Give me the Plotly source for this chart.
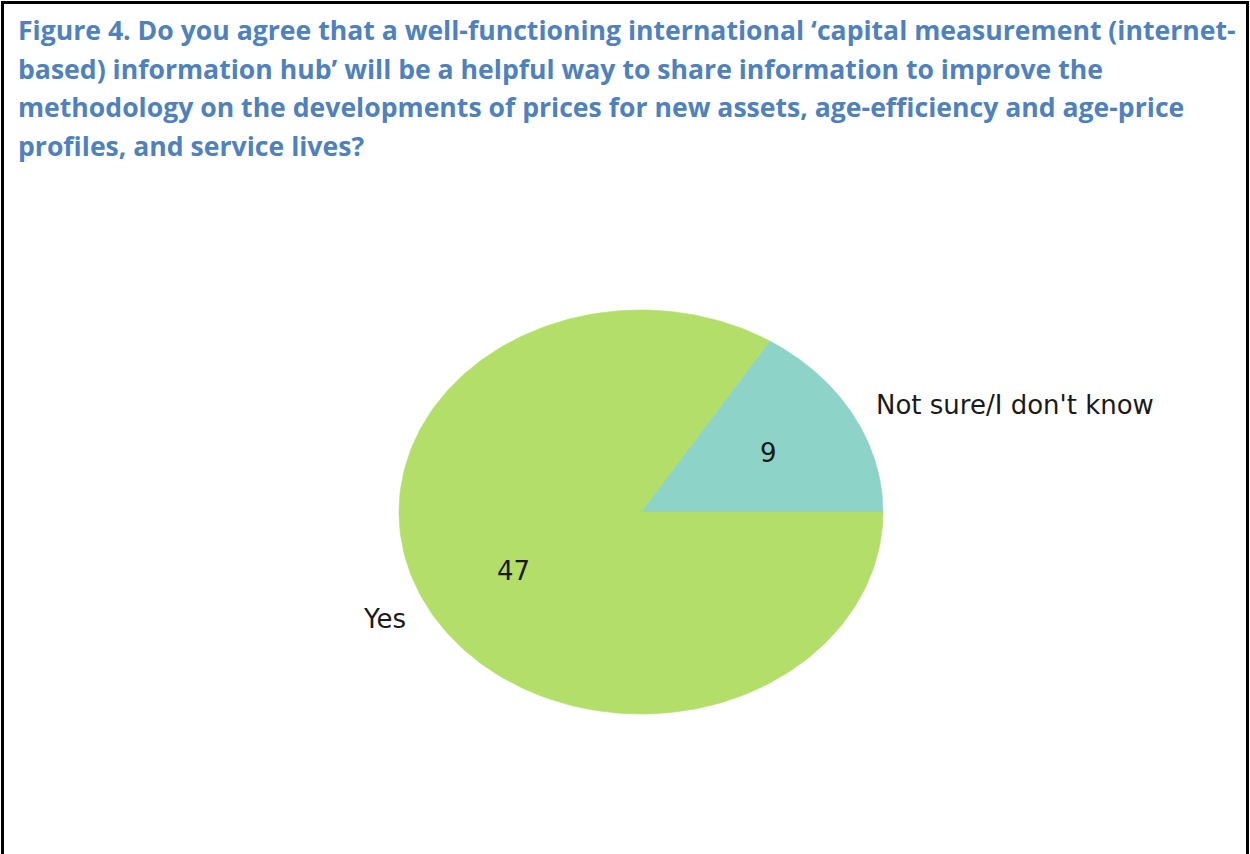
import numpy as np
import plotly.graph_objects as go

# Survey responses
categories = ["Not sure/I don't know", "Yes"]
counts = [9, 47]
colors = ["#8DD3C7", "#B3DE69"]

title_lines = [
    "Figure 4. Do you agree that a well-functioning international \u2018capital measurement (internet-",
    "based) information hub\u2019 will be a helpful way to share information to improve the",
    "methodology on the developments of prices for new assets, age-efficiency and age-price",
    "profiles, and service lives?",
]

# Page geometry (pixels)
W, H = 1250, 854
CX, CY = 641, 512          # pie centre
RX, RY = 242, 202          # horizontal / vertical radius of the (stretched) pie

fig = go.Figure()

# Wedges: start at 3 o'clock, go counter-clockwise, unit radius in data space
vals = np.array(counts, dtype=float)
bounds = np.concatenate([[0], np.cumsum(vals)]) / vals.sum() * 2 * np.pi
for name, c, a0, a1 in zip(categories, colors, bounds[:-1], bounds[1:]):
    t = np.linspace(a0, a1, 200)
    xs = np.concatenate([[0], np.cos(t), [0]])
    ys = np.concatenate([[0], np.sin(t), [0]])
    fig.add_trace(go.Scatter(
        x=xs, y=ys, mode="lines", fill="toself", fillcolor=c,
        line=dict(color=c, width=0.6), hoverinfo="skip", showlegend=False,
    ))

label_font = dict(family="DejaVu Sans", size=26, color="#1a1a1a")
for name, v, a0, a1 in zip(categories, counts, bounds[:-1], bounds[1:]):
    mid = (a0 + a1) / 2
    # category label outside the wedge
    fig.add_annotation(
        x=1.1 * np.cos(mid), y=1.1 * np.sin(mid), text=name, showarrow=False,
        xanchor="left" if np.cos(mid) >= 0 else "right", yanchor="middle",
        font=label_font,
    )
    # value label inside the wedge
    fig.add_annotation(
        x=0.6 * np.cos(mid), y=0.6 * np.sin(mid), text=str(v), showarrow=False,
        xanchor="center", yanchor="middle", font=label_font,
    )

# Title, one annotation per line
title_font = dict(family="Open Sans", size=26.6, color="#4F81BD")
for i, line in enumerate(title_lines):
    fig.add_annotation(
        xref="paper", yref="paper", x=16 / W, y=1 - (30 + 38.5 * i) / H,
        text="<b>" + line + "</b>", showarrow=False,
        xanchor="left", yanchor="middle", font=title_font,
    )

# Frame around the page
fig.add_shape(
    type="rect", xref="paper", yref="paper",
    x0=2.5 / W, x1=(W - 2.5) / W, y0=-0.05, y1=1 - 2.5 / H,
    line=dict(color="black", width=3), fillcolor="rgba(0,0,0,0)",
)

fig.update_layout(
    width=W, height=H,
    margin=dict(l=0, r=0, t=0, b=0),
    paper_bgcolor="white", plot_bgcolor="white",
    xaxis=dict(range=[-CX / RX, (W - CX) / RX], visible=False, fixedrange=True),
    yaxis=dict(range=[-(H - CY) / RY, CY / RY], visible=False, fixedrange=True),
)

fig.write_html("out.html")
